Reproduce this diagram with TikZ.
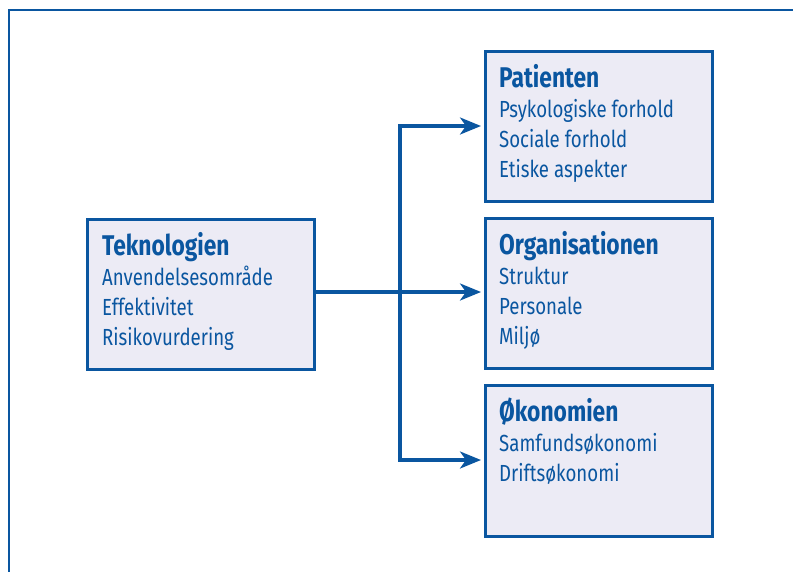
\documentclass[tikz,border=0pt]{standalone}
\usepackage{fontspec}
\setmainfont{Fira Sans}[FakeStretch=0.8]
\usetikzlibrary{arrows.meta}
\definecolor{dblue}{HTML}{0A56A0}
\definecolor{lfill}{HTML}{ECEBF5}
\tikzset{
  box/.style={draw=dblue, line width=3pt, fill=lfill, inner sep=0pt, anchor=north west},
  ttl/.style={anchor=base west, inner sep=0pt, text=dblue, font=\fontsize{28.5}{28.5}\selectfont\bfseries},
  itm/.style={anchor=base west, inner sep=0pt, text=dblue, font=\fontsize{23.3}{23.3}\selectfont},
  conn/.style={draw=dblue, line width=3.2pt},
  arr/.style={conn, -{Stealth[length=21pt,width=17pt,inset=6pt]}},
}
\begin{document}
\begin{tikzpicture}[x=1pt,y=-1pt]
\path[use as bounding box, clip] (0,0) rectangle (793,571);
\fill[white] (0,0) rectangle (793,571);
\draw[dblue, line width=2pt] (9,600) |- (820,10);
% boxes
\node[box, minimum width=227pt, minimum height=150pt] (tek) at (86,218) {};
\node[box, minimum width=227pt, minimum height=150pt] (pat) at (484,50) {};
\node[box, minimum width=227pt, minimum height=150pt] (org) at (484,217) {};
\node[box, minimum width=227pt, minimum height=151pt] (oko) at (484,384) {};
% texts
\node[ttl] (tek0) at (102,255) {Teknologien};
\node[itm] (tek1) at (102,285) {Anvendelsesområde};
\node[itm] (tek2) at (102,315) {Effektivitet};
\node[itm] (tek3) at (102,345) {Risikovurdering};
\node[ttl] (pat0) at (499,87) {Patienten};
\node[itm] (pat1) at (499,117) {Psykologiske forhold};
\node[itm] (pat2) at (499,147) {Sociale forhold};
\node[itm] (pat3) at (499,177) {Etiske aspekter};
\node[ttl] (org0) at (499,254) {Organisationen};
\node[itm] (org1) at (499,284) {Struktur};
\node[itm] (org2) at (499,314) {Personale};
\node[itm] (org3) at (499,344) {Miljø};
\node[ttl] (oko0) at (499,421) {Økonomien};
\node[itm] (oko1) at (499,451) {Samfundsøkonomi};
\node[itm] (oko2) at (499,481) {Driftsøkonomi};
% connectors
\coordinate (j) at (400,292);
\coordinate (jt) at (400,126);
\coordinate (jb) at (400,460);
\draw[arr] (tek.east |- j) -- ([xshift=-3pt]org.west |- j);
\draw[arr] (j) -- (jt) -- ([xshift=-3pt]pat.west |- jt);
\draw[arr] (j) -- (jb) -- ([xshift=-3pt]oko.west |- jb);
\end{tikzpicture}
\end{document}
